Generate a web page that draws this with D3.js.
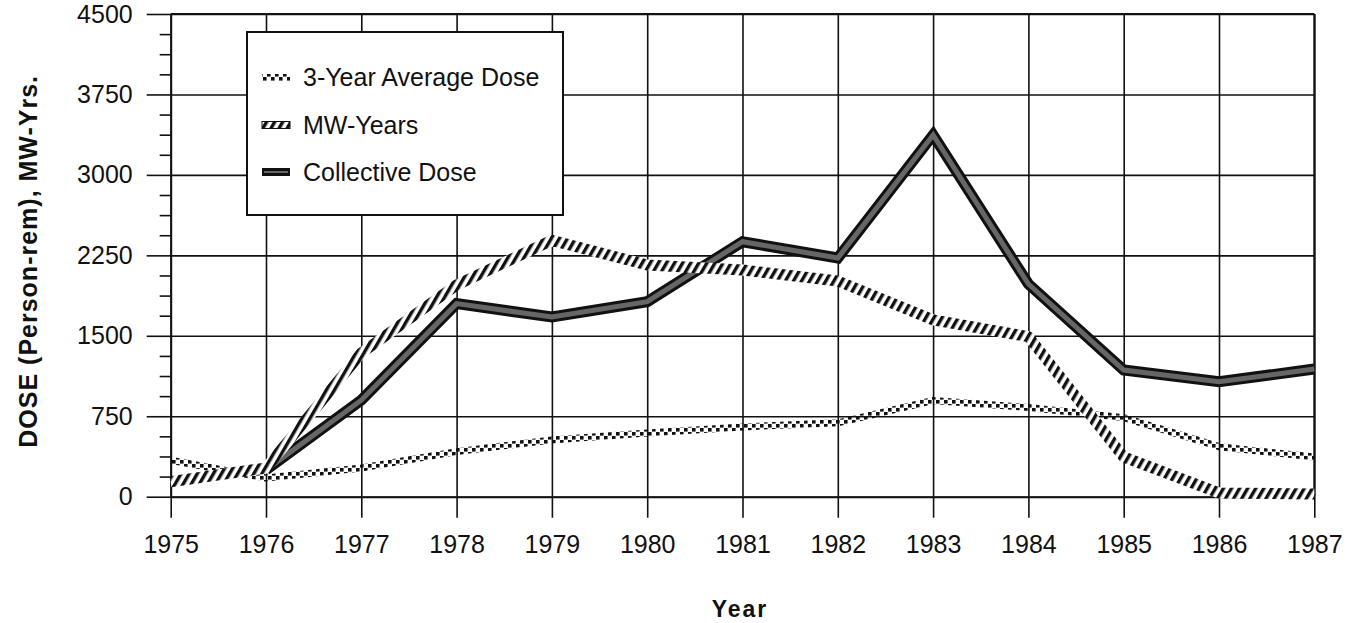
<!DOCTYPE html>
<html>
<head>
<meta charset="utf-8">
<script src="https://cdn.jsdelivr.net/npm/d3@7"></script>
<style>
	html, body { margin: 0; padding: 0; background: #fff; }
	svg { display: block; font-family: "Liberation Sans", Arial, sans-serif; }
</style>
</head>
<body>
<svg id="chart" width="1356" height="623"></svg>
<script>
// --- Data ---
const years = [1975, 1976, 1977, 1978, 1979, 1980, 1981, 1982, 1983, 1984, 1985, 1986, 1987];
const avgDose = [340, 174, 268, 420, 529, 594, 650, 689, 897, 832, 737, 466, 370];
const mwYears = [140, 268, 1340, 1974, 2390, 2160, 2113, 2011, 1648, 1492, 370, 35, 25];
// collective dose starts in 1976
const collectiveYears = [1976, 1977, 1978, 1979, 1980, 1981, 1982, 1983, 1984, 1985, 1986, 1987];
const collectiveDose = [250, 900, 1800, 1675, 1818, 2377, 2225, 3372, 1983, 1181, 1072, 1190];

const yTicks = [0, 750, 1500, 2250, 3000, 3750, 4500];
const legendLabels = ["3-Year Average Dose", "MW-Years", "Collective Dose"];

// -------------------------
// Layout
// -------------------------
const svg = d3.select("#chart");
const plotLeft = 170.7, plotRight = 1314.3, plotTop = 14, plotBottom = 496.7;

const x = d3.scaleLinear().domain([1975, 1987]).range([plotLeft, plotRight]);
const y = d3.scaleLinear().domain([0, 4500]).range([plotBottom, plotTop]);

// --- patterns for the line fills ---
const defs = svg.append("defs");

const hatch = defs.append("pattern")
	.attr("id", "hatch")
	.attr("patternUnits", "userSpaceOnUse")
	.attr("width", 7)
	.attr("height", 7)
	.attr("patternTransform", "rotate(30)");
hatch.append("rect").attr("width", 7).attr("height", 7).attr("fill", "#fff");
hatch.append("rect").attr("width", 3.4).attr("height", 7).attr("fill", "#111");

const dots = defs.append("pattern")
	.attr("id", "dots")
	.attr("patternUnits", "userSpaceOnUse")
	.attr("width", 8)
	.attr("height", 8);
dots.append("rect").attr("x", 0).attr("y", 0).attr("width", 3.6).attr("height", 3.6).attr("fill", "#111");
dots.append("rect").attr("x", 4).attr("y", 4).attr("width", 3.6).attr("height", 3.6).attr("fill", "#111");

// --- gridlines ---
svg.append("g")
	.attr("class", "grid")
	.attr("transform", `translate(${plotLeft},0)`)
	.call(d3.axisLeft(y).tickValues(yTicks).tickSize(-(plotRight - plotLeft)).tickFormat(""))
	.call((g) => g.select(".domain").remove())
	.call((g) => g.selectAll("line").attr("stroke", "#111").attr("stroke-width", 1.6));

svg.append("g")
	.attr("class", "grid")
	.attr("transform", `translate(0,${plotBottom})`)
	.call(d3.axisBottom(x).tickValues(years).tickSize(-(plotBottom - plotTop)).tickFormat(""))
	.call((g) => g.select(".domain").remove())
	.call((g) => g.selectAll("line").attr("stroke", "#111").attr("stroke-width", 1.6));

// --- minor y ticks (outside, left of the axis) ---
const minorTicks = d3.range(0, 4500, 187.5).filter((v) => v % 750 !== 0);
svg.append("g")
	.attr("transform", `translate(${plotLeft},0)`)
	.call(d3.axisLeft(y).tickValues(minorTicks).tickSize(11).tickFormat(""))
	.call((g) => g.select(".domain").remove())
	.call((g) => g.selectAll("line").attr("stroke", "#111").attr("stroke-width", 1.6));

// --- y axis with labels ---
const yAxis = svg.append("g")
	.attr("transform", `translate(${plotLeft},0)`)
	.call(d3.axisLeft(y).tickValues(yTicks).tickFormat(d3.format("d")).tickSize(24).tickPadding(14).tickSizeOuter(0));
yAxis.select(".domain").attr("stroke", "#111").attr("stroke-width", 2);
yAxis.selectAll("line").attr("stroke", "#111").attr("stroke-width", 1.6);
yAxis.selectAll("text")
	.attr("font-size", 25)
	.attr("font-family", "'Liberation Sans', Arial, sans-serif")
	.attr("fill", "#111");

// --- x axis with labels ---
const xAxis = svg.append("g")
	.attr("transform", `translate(0,${plotBottom})`)
	.call(d3.axisBottom(x).tickValues(years).tickFormat(d3.format("d")).tickSize(21).tickPadding(17.5).tickSizeOuter(0));
xAxis.select(".domain").attr("stroke", "#111").attr("stroke-width", 2);
xAxis.selectAll("line").attr("stroke", "#111").attr("stroke-width", 1.6);
xAxis.selectAll("text")
	.attr("font-size", 25)
	.attr("font-family", "'Liberation Sans', Arial, sans-serif")
	.attr("fill", "#111");

// top and right frame
svg.append("line")
	.attr("x1", plotLeft).attr("x2", plotRight).attr("y1", y(4500)).attr("y2", y(4500))
	.attr("stroke", "#111").attr("stroke-width", 2);
svg.append("line")
	.attr("x1", x(1987)).attr("x2", x(1987)).attr("y1", plotTop).attr("y2", plotBottom)
	.attr("stroke", "#111").attr("stroke-width", 2);

// -------------------------
// Series lines
// -------------------------
const line = d3.line().x((d) => x(d[0])).y((d) => y(d[1]));

const collective = collectiveYears.map((yr, i) => [yr, collectiveDose[i]]);
const avg = years.map((yr, i) => [yr, avgDose[i]]);
const mw = years.map((yr, i) => [yr, mwYears[i]]);

const lines = svg.append("g").attr("fill", "none");

// collective dose: black band with grey core
lines.append("path")
	.attr("d", line(collective))
	.attr("stroke", "#111")
	.attr("stroke-width", 11)
	.attr("stroke-linejoin", "miter");
lines.append("path")
	.attr("d", line(collective))
	.attr("stroke", "#666")
	.attr("stroke-width", 5)
	.attr("stroke-linejoin", "miter");

// 3-year average: dotted band
lines.append("path")
	.attr("d", line(avg))
	.attr("stroke", "url(#dots)")
	.attr("stroke-width", 7)
	.attr("stroke-linejoin", "round");

// MW-years: hatched band
lines.append("path")
	.attr("d", line(mw))
	.attr("stroke", "url(#hatch)")
	.attr("stroke-width", 11)
	.attr("stroke-linejoin", "round");

// -------------------------
// Legend
// -------------------------
const legend = svg.append("g").attr("transform", "translate(247,32)");
legend.append("rect")
	.attr("width", 316)
	.attr("height", 183)
	.attr("fill", "#fff")
	.attr("stroke", "#111")
	.attr("stroke-width", 2);

const rows = legend.selectAll("g.row")
	.data(legendLabels)
	.enter()
	.append("g")
	.attr("class", "row")
	.attr("transform", (d, i) => `translate(0,${45 + i * 47.5})`);

rows.append("text")
	.attr("x", 56)
	.attr("y", 9)
	.attr("font-size", 25)
	.attr("fill", "#111")
	.text((d) => d);

// swatches
rows.filter((d, i) => i === 0).append("rect")
	.attr("x", 15).attr("y", -3).attr("width", 28).attr("height", 7)
	.attr("fill", "url(#dots)");
rows.filter((d, i) => i === 1).append("rect")
	.attr("x", 15).attr("y", -3).attr("width", 28).attr("height", 7)
	.attr("fill", "url(#hatch)");
rows.filter((d, i) => i === 1).append("rect")
	.attr("x", 15).attr("y", -3).attr("width", 28).attr("height", 7)
	.attr("fill", "none").attr("stroke", "#111").attr("stroke-width", 1);
rows.filter((d, i) => i === 2).append("rect")
	.attr("x", 15).attr("y", -4).attr("width", 28).attr("height", 8)
	.attr("fill", "#111");
rows.filter((d, i) => i === 2).append("rect")
	.attr("x", 17).attr("y", -1).attr("width", 24).attr("height", 2)
	.attr("fill", "#666");

// -------------------------
// Axis titles
// -------------------------
svg.append("text")
	.attr("transform", `translate(37,${(plotTop + plotBottom) / 2 + 6}) rotate(-90)`)
	.attr("text-anchor", "middle")
	.attr("font-size", 25)
	.attr("font-weight", "bold")
	.attr("letter-spacing", 1)
	.attr("fill", "#111")
	.text("DOSE (Person-rem), MW-Yrs.");

svg.append("text")
	.attr("x", 740)
	.attr("y", 617)
	.attr("text-anchor", "middle")
	.attr("font-size", 23)
	.attr("font-weight", "bold")
	.attr("letter-spacing", 2)
	.attr("fill", "#111")
	.text("Year");
</script>
</body>
</html>
